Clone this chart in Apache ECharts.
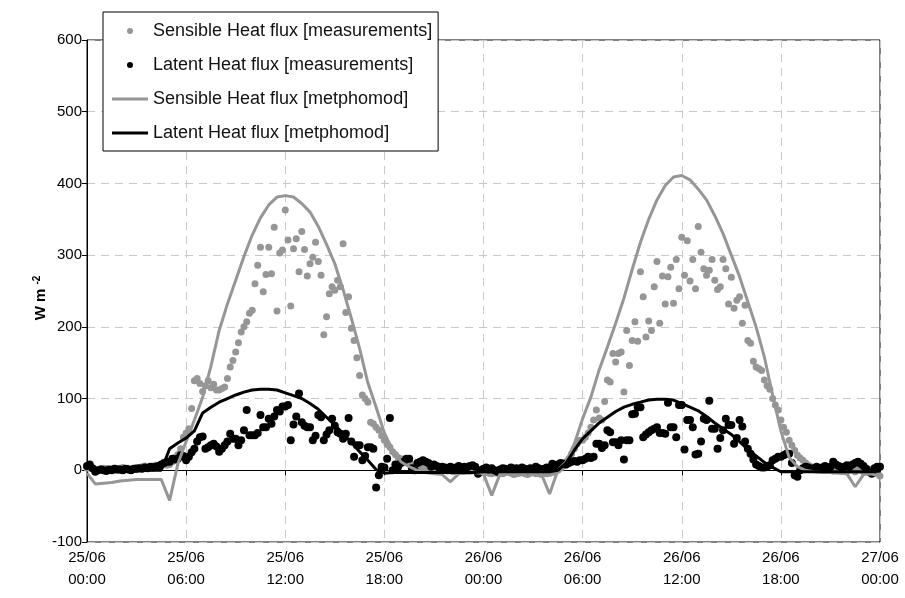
<!DOCTYPE html>
<html>
<head>
<meta charset="utf-8">
<script src="https://cdn.jsdelivr.net/npm/echarts@6/dist/echarts.min.js"></script>
<style>
  html, body { margin: 0; padding: 0; background: #fff; }
  #chart { width: 905px; height: 598px; }
</style>
</head>
<body>
<div id="chart"></div>
<script>
// time axis: hours since 25/06 00:00, ticks every 6 h
const xTicks = [0, 6, 12, 18, 24, 30, 36, 42, 48];
const yTicks = [-100, 0, 100, 200, 300, 400, 500, 600];

// measurements every 10 min (6 values per hour row), W m-2
const sensibleMeas = [
  3, 5, 2, 1, 0, 2,            // 25/06 00h
  3, 2, 1, 2, 3, 2,
  3, 4, 2, 3, 1, 2,
  4, 3, 5, 6, 4, 5,
  6, 7, 5, 8, 9, 7,
  8, 12, 18, 22, 30, 46,
  52, 58, 86, 125, 128, 121,   // 06h
  110, 118, 125, 115, 120, 112,
  112, 114, 116, 128, 144, 153,
  165, 178, 193, 200, 207, 219,
  223, 260, 286, 311, 249, 273,
  311, 274, 339, 222, 303, 307,
  363, 321, 229, 309, 323, 277, // 12h
  333, 308, 271, 288, 297, 318,
  291, 272, 189, 214, 246, 256,
  251, 265, 256, 316, 220, 242,
  198, 181, 157, 132, 105, 100,
  95, 67, 65, 60, 56, 48,
  42, 36, 32, 26, 22, 18,      // 18h
  16, 14, 12, 10, 8, 6,
  5, 4, 3, 2, 3, 2,
  1, 0, 2, 1, 0, -1,
  0, -2, -1, 0, 1, -1,
  0, -1, 1, 0, -2, -1,
  -3, -2, -4, -5, -3, -4,      // 26/06 00h
  -4, -5, -3, -2, -4, -6,
  -5, -4, -3, -5, -6, -4,
  -3, -5, -4, -6, -4, -5,
  -4, -3, -2, 0, 3, 6,
  12, 16, 23, 30, 37, 42,
  42, 46, 52, 60, 70, 84,      // 06h
  73, 70, 96, 126, 123, 163,
  151, 163, 165, 109, 195, 146,
  181, 207, 180, 277, 242, 186,
  208, 195, 256, 291, 205, 271,
  232, 270, 283, 233, 294, 253,
  325, 272, 320, 264, 294, 253, // 12h
  340, 304, 281, 272, 279, 294,
  265, 252, 256, 294, 281, 232,
  269, 226, 237, 242, 205, 230,
  181, 177, 152, 144, 142, 139,
  126, 118, 113, 100, 91, 84,
  70, 60, 53, 42, 35, 28,      // 18h
  21, 17, 14, 10, 7, 5,
  4, 3, 2, 1, 2, 0,
  1, -1, 0, 2, 1, 0,
  -1, 0, 2, -2, 0, 1,
  -2, 0, 1, -1, -3, -5,
  -8                            // 27/06 00h
];

const latentMeas = [
  6, 8, 3, -2, 0, 1,           // 25/06 00h
  0, -1, 1, 0, 2, 1,
  1, 0, 2, 1, 0, 2,
  2, 3, 2, 4, 3, 5,
  4, 5, 6, 8, 10, 12,
  12, 16, 15, 16, 21, 20,
  14, 19, 25, 30, 40, 46,      // 06h
  47, 30, 32, 35, 37, 33,
  26, 30, 35, 40, 51, 44,
  44, 35, 42, 56, 84, 49,
  49, 49, 52, 77, 60, 60,
  72, 65, 75, 84, 82, 89,
  89, 91, 42, 64, 75, 107,     // 12h
  67, 62, 60, 60, 42, 48,
  77, 74, 42, 50, 56, 72,
  62, 53, 51, 44, 51, 73,
  40, 19, 35, 35, 14, 20,
  32, 32, 30, -24, -7, 5,
  4, 16, 73, 0, 8, 5,          // 18h
  10, 12, 16, 16, 3, 0,
  10, 12, 14, 12, 10, 5,
  8, 6, 3, 5, 4, 2,
  5, 3, 4, 6, 3, 5,
  4, 6, 7, 5, -5, 0,
  2, 4, 1, 3, 0, -2,           // 26/06 00h
  1, 3, 2, 0, 4, 2,
  3, 1, 4, 2, 0, 3,
  2, 5, 3, 1, 2, 4,
  3, 9, 6, 8, 10, 9,
  8, 10, 12, 13, 12, 14,
  14, 16, 19, 17, 19, 37,      // 06h
  37, 31, 35, 56, 53, 39,
  39, 35, 42, 15, 42, 42,
  78, 79, 88, 88, 46, 50,
  53, 56, 58, 60, 52, 52,
  51, 94, 60, 60, 46, 91,
  91, 29, 70, 70, 60, 22,      // 12h
  23, 40, 72, 70, 97, 58,
  58, 30, 45, 56, 72, 63,
  63, 37, 45, 70, 61, 40,
  30, 23, 15, 8, 6, 4,
  4, 5, 7, 14, 16, 19,
  19, 21, 23, 23, 10, -7,      // 18h
  -9, 0, 3, 5, 4, 2,
  3, 5, 2, 4, 6, 3,
  5, 12, 8, 6, 4, 5,
  7, 5, 8, 10, 12, 9,
  6, 2, -2, -5, 3, 5,
  5                             // 27/06 00h
];

// metphomod output every 30 min (2 values per hour pair)
const sensibleModel = [
  -4, -19,  -18, -17,  -15, -14,  -13, -13,  -13, -13,  -42, 9,
  40, 70,  102, 145,  195, 232,  265, 298,  328, 352,  370, 381,
  383, 381,  372, 360,  340, 315,  288, 252,  212, 170,  122, 88,
  52, 28,  12, 5,  0, -3,  -5, -6,  -16, -5,  -4, -3,
  -5, -35,  -5, -4,  -4, -3,  -4, -5,  -33, 0,  12, 37,
  72, 102,  140, 172,  205, 240,  280, 318,  350, 377,  397, 409,
  411, 405,  392, 377,  355, 330,  300, 270,  235, 200,  158, 105,
  55, 18,  5, 0,  -2, -3,  -3, -4,  -5, -23,  -6, -5,
  -9
];

const latentModel = [
  5, 0,  -2, -2,  -2, -1,  -1, 0,  0, 0,  30, 38,
  45, 55,  80, 88,  95, 100,  105, 109,  112, 113,  113, 112,
  108, 104,  100, 93,  85, 74,  63, 51,  39, 26,  14, 1,
  -4, -3,  -3, -3,  -3, -3,  -3, -3,  -3, -3,  -3, -3,
  -2, -2,  -2, -2,  -2, -2,  -2, -2,  -2, 0,  10, 28,
  44, 55,  66, 74,  82, 88,  92, 95,  98, 99,  99, 98,
  93, 88,  83, 75,  66, 58,  50, 40,  29, 20,  11, 4,
  -2, -2,  -2, -2,  -2, -2,  -2, -2,  -2, -2,  -2, -2,
  -1
];

const legendNames = [
  'Sensible Heat flux [measurements]',
  'Latent Heat flux [measurements]',
  'Sensible Heat flux [metphomod]',
  'Latent Heat flux [metphomod]'
];

// pair values with their time in hours
function withTime(values, stepHours) {
  return values.map((v, i) => [i * stepHours, v]);
}

const FONT = '"Liberation Sans", Arial, sans-serif';
const GREY = '#969696';
const LINE_ICON = 'path://M0,0H36V3H0Z';

const chart = echarts.init(document.getElementById('chart'));

const option = {
  animation: false,
  backgroundColor: '#fff',
  textStyle: { fontFamily: FONT },
  grid: {
    left: 87,
    right: 25,
    top: 40,
    bottom: 56,
    show: true,
    borderColor: '#000',
    borderWidth: 1
  },
  // y axis title, placed by hand
  graphic: [
    {
      type: 'text',
      x: 41,
      y: 298,
      rotation: Math.PI / 2,
      style: {
        text: 'W m {sup|-2}',
        fontFamily: FONT,
        fontSize: 15,
        fontWeight: 'bold',
        fill: '#000',
        align: 'center',
        verticalAlign: 'middle',
        rich: {
          sup: { fontSize: 10, fontWeight: 'bold', fontFamily: FONT, verticalAlign: 'top', fill: '#000', padding: [0, 0, 8, 0] }
        }
      }
    }
  ],
  legend: {
    orient: 'vertical',
    left: 103,
    top: 12,
    padding: [10, 6, 9, 9],
    backgroundColor: '#fff',
    borderColor: '#000',
    borderWidth: 1,
    borderRadius: 0,
    itemWidth: 36,
    itemHeight: 6,
    itemGap: 16,
    textStyle: { fontSize: 18, color: '#111', fontFamily: FONT },
    data: [
      { name: legendNames[0], icon: 'circle' },
      { name: legendNames[1], icon: 'circle' },
      { name: legendNames[2], icon: LINE_ICON },
      { name: legendNames[3], icon: LINE_ICON }
    ]
  },
  xAxis: {
    type: 'value',
    min: xTicks[0],
    max: xTicks[xTicks.length - 1],
    interval: 6,
    axisLine: { lineStyle: { color: '#000', width: 1 } },
    axisTick: { show: true, length: 5, lineStyle: { color: '#000' } },
    axisLabel: {
      fontSize: 15,
      color: '#000',
      lineHeight: 22,
      margin: 5,
      formatter: function (v) {
        const day = 25 + Math.floor(v / 24);
        const hh = String(v % 24).padStart(2, '0');
        return day + '/06\n' + hh + ':00';
      }
    },
    splitLine: { show: true, lineStyle: { color: '#c8c8c8', type: [8, 6], width: 1 } }
  },
  yAxis: {
    type: 'value',
    min: yTicks[0],
    max: yTicks[yTicks.length - 1],
    interval: 100,
    axisLine: { show: true, lineStyle: { color: '#000', width: 1 } },
    axisTick: { show: true, length: 5, lineStyle: { color: '#000' } },
    axisLabel: { fontSize: 15, color: '#000', margin: 5 },
    splitLine: { show: true, lineStyle: { color: '#c8c8c8', type: [8, 6], width: 1 } }
  },
  series: [
    {
      name: legendNames[0],
      type: 'scatter',
      data: withTime(sensibleMeas, 1 / 6),
      symbol: 'circle',
      symbolSize: 7,
      itemStyle: { color: GREY, opacity: 1 },
      z: 2
    },
    {
      name: legendNames[1],
      type: 'scatter',
      data: withTime(latentMeas, 1 / 6),
      symbol: 'circle',
      symbolSize: 8,
      itemStyle: { color: '#000', opacity: 1 },
      z: 3
    },
    {
      name: legendNames[2],
      type: 'line',
      data: withTime(sensibleModel, 0.5),
      symbol: 'none',
      lineStyle: { color: GREY, width: 3 },
      itemStyle: { color: GREY },
      z: 4
    },
    {
      name: legendNames[3],
      type: 'line',
      data: withTime(latentModel, 0.5),
      symbol: 'none',
      lineStyle: { color: '#000', width: 3 },
      itemStyle: { color: '#000' },
      z: 5
    }
  ]
};

chart.setOption(option);
</script>
</body>
</html>
